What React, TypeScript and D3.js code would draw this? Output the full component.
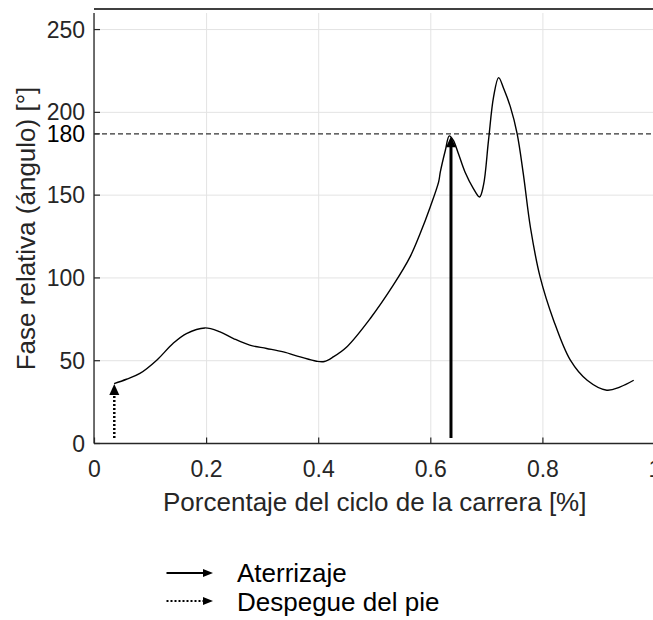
import React from "react";
import * as d3 from "d3";

const curveX = [0.035, 0.057, 0.081, 0.111, 0.140, 0.164, 0.197, 0.224, 0.248, 0.277, 0.307, 0.337, 0.367, 0.396, 0.410, 0.426, 0.450, 0.492, 0.533, 0.563, 0.581, 0.599, 0.614, 0.617, 0.626, 0.633, 0.640, 0.649, 0.661, 0.676, 0.687, 0.694, 0.703, 0.712, 0.721, 0.730, 0.742, 0.754, 0.765, 0.778, 0.795, 0.819, 0.849, 0.879, 0.914, 0.938, 0.962];
const curveY = [36.2, 38.8, 42.3, 50.3, 60.4, 66.4, 69.8, 67.4, 63.4, 59.4, 57.4, 55.3, 52.3, 49.7, 49.5, 52.3, 58.3, 75.5, 95.6, 112.7, 126.8, 142.9, 158, 164, 177.1, 185.8, 183.2, 175.3, 164, 154, 148.9, 156, 183.2, 209.3, 221, 214.4, 203.3, 187.2, 163, 130, 100.6, 74.5, 50.3, 38.2, 32.2, 34.2, 38.2];

const xTicks = [0, 0.2, 0.4, 0.6, 0.8, 1];
const xTickLabels = ["0", "0.2", "0.4", "0.6", "0.8", "1"];
const yTicks = [0, 50, 100, 150, 200, 250];
const yTickLabels = ["0", "50", "100", "150", "200", "250"];
const refLineValue = 187;
const refLineLabel = "180";

// arrows: [x, yStart, yEnd]
const landingArrow = [0.636, 3.3, 185.5];
const takeoffArrow = [0.0353, 3.3, 36];

const legendLabels = ["Aterrizaje", "Despegue del pie"];
const xLabel = "Porcentaje del ciclo de la carrera [%]";
const yLabel = "Fase relativa (ángulo) [°]";

const W = 653;
const H = 620;
const FONT = "'Liberation Sans', Arial, sans-serif";
const AX = "#262626";

export default function App() {
  const x = d3.scaleLinear().domain([0, 1]).range([94.5, 655]);
  const y = d3.scaleLinear().domain([0, 260]).range([443.5, 13]);
  const pts = curveX.map((v, i) => [v, curveY[i]] as [number, number]);
  const line = d3
    .line<[number, number]>()
    .x((d) => x(d[0]))
    .y((d) => y(d[1]))
    .curve(d3.curveCatmullRom.alpha(0.5));

  const arrowHead = (px: number, tipY: number, w: number, h: number) =>
    `${px},${tipY} ${px - w / 2},${tipY + h} ${px + w / 2},${tipY + h}`;
  const arrowHeadR = (tipX: number, py: number, w: number, h: number) =>
    `${tipX},${py} ${tipX - h},${py - w / 2} ${tipX - h},${py + w / 2}`;

  const plotLeft = 94;
  const plotTop = 13;
  const plotBottom = 443.5;

  const lx = landingArrow[0];
  const tx = takeoffArrow[0];

  return (
    <div style={{ position: "absolute", left: 0, top: 0 }}>
      <svg width={W} height={H} style={{ display: "block", background: "#fff" }} fontFamily={FONT}>
        <rect x={0} y={0} width={W} height={H} fill="#fff" />
        {/* grid */}
        {xTicks.map((t, i) => (
          <line key={"gx" + i} x1={x(t)} x2={x(t)} y1={plotTop} y2={plotBottom} stroke="#e3e3e3" strokeWidth={1} />
        ))}
        {yTicks.map((t, i) => (
          <line key={"gy" + i} x1={plotLeft} x2={W} y1={y(t)} y2={y(t)} stroke="#e3e3e3" strokeWidth={1} />
        ))}
        {/* top frame line */}
        <line x1={plotLeft} x2={W} y1={9} y2={9} stroke="#000" strokeWidth={1.3} />
        {/* axes */}
        <line x1={plotLeft} x2={plotLeft} y1={plotTop} y2={plotBottom} stroke={AX} strokeWidth={1.3} />
        <line x1={plotLeft} x2={W} y1={plotBottom} y2={plotBottom} stroke={AX} strokeWidth={1.3} />
        {xTicks.map((t, i) => (
          <g key={"xt" + i}>
            <line x1={x(t)} x2={x(t)} y1={plotBottom} y2={plotBottom - 6} stroke={AX} strokeWidth={1.2} />
            <text x={x(t)} y={477} textAnchor="middle" fontSize={23} fill={AX}>
              {xTickLabels[i]}
            </text>
          </g>
        ))}
        {yTicks.map((t, i) => (
          <g key={"yt" + i}>
            <line x1={plotLeft} x2={plotLeft + 6} y1={y(t)} y2={y(t)} stroke={AX} strokeWidth={1.2} />
            <text x={85} y={y(t) + 8} textAnchor="end" fontSize={23} fill={AX}>
              {yTickLabels[i]}
            </text>
          </g>
        ))}
        {/* reference line */}
        <line x1={plotLeft} x2={plotLeft + 6} y1={y(refLineValue)} y2={y(refLineValue)} stroke={AX} strokeWidth={1.2} />
        <text x={85} y={y(refLineValue) + 8} textAnchor="end" fontSize={23} fill="#000">
          {refLineLabel}
        </text>
        <line x1={plotLeft} x2={W} y1={y(refLineValue)} y2={y(refLineValue)} stroke="#333" strokeWidth={1.3} strokeDasharray="5,3" />
        {/* curve */}
        <path d={line(pts) || ""} fill="none" stroke="#000" strokeWidth={1.4} />
        {/* landing arrow */}
        <line x1={x(lx)} x2={x(lx)} y1={y(landingArrow[1])} y2={y(landingArrow[2]) + 8} stroke="#000" strokeWidth={3} />
        <polygon points={arrowHead(x(lx), y(landingArrow[2]), 10, 11)} fill="#000" />
        {/* takeoff arrow */}
        <line x1={x(tx)} x2={x(tx)} y1={y(takeoffArrow[1])} y2={y(takeoffArrow[2]) + 9} stroke="#000" strokeWidth={2.5} strokeDasharray="2,2" />
        <polygon points={arrowHead(x(tx), y(takeoffArrow[2]), 10, 11)} fill="#000" />
        {/* axis labels */}
        <text x={(x(0) + x(1)) / 2} y={511} textAnchor="middle" fontSize={26} fill={AX}>
          {xLabel}
        </text>
        <text transform={`translate(34.5,${(85 + 372) / 2}) rotate(-90)`} textAnchor="middle" fontSize={26} fill={AX}>
          {yLabel}
        </text>
        {/* legend */}
        <line x1={166.5} x2={204} y1={573} y2={573} stroke="#000" strokeWidth={2.2} />
        <polygon points={arrowHeadR(213, 573, 8, 10)} fill="#000" />
        <text x={237} y={582} fontSize={26} fill="#000">
          {legendLabels[0]}
        </text>
        <line x1={166.5} x2={204} y1={601} y2={601} stroke="#000" strokeWidth={2.2} strokeDasharray="2,2" />
        <polygon points={arrowHeadR(213, 601, 8, 10)} fill="#000" />
        <text x={237} y={611} fontSize={26} fill="#000">
          {legendLabels[1]}
        </text>
      </svg>
    </div>
  );
}
